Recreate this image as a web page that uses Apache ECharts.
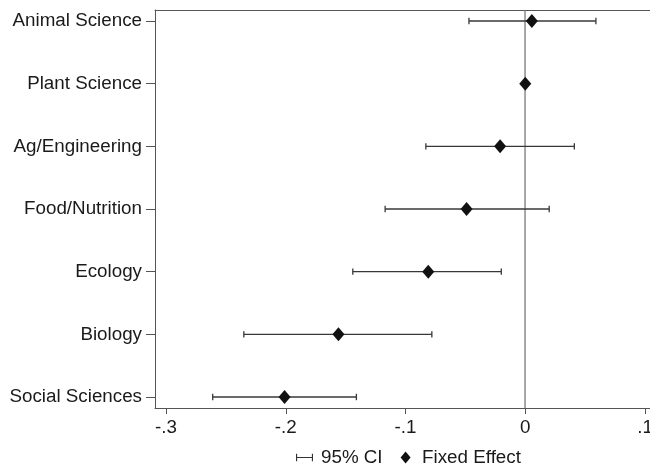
<!DOCTYPE html>
<html>
<head>
<meta charset="utf-8">
<script src="https://cdn.jsdelivr.net/npm/echarts@6/dist/echarts.min.js"></script>
<style>
html,body{margin:0;padding:0;background:#fff;}
#chart{width:650px;height:465px;}
</style>
</head>
<body>
<div id="chart"></div>
<script>
// Data (top to bottom)
const categories = ['Animal Science','Plant Science','Ag/Engineering','Food/Nutrition','Ecology','Biology','Social Sciences'];
const estimates  = [0.0055, 0.0, -0.021, -0.049, -0.081, -0.156, -0.201];
const ciLower    = [-0.047, -0.001, -0.083, -0.117, -0.144, -0.235, -0.261];
const ciUpper    = [0.059, 0.001, 0.041, 0.020, -0.020, -0.078, -0.141];
const xTicks     = [-0.3, -0.2, -0.1, 0, 0.1];
const referenceValue = 0;

const FONT = '"Liberation Sans", Arial, Helvetica, sans-serif';
const AXIS_COLOR = '#555';
const TEXT_COLOR = '#1a1a1a';
const FS = 18.8;

const chart = echarts.init(document.getElementById('chart'), null, {renderer: 'canvas'});

const ciData = categories.map((c, i) => [ciLower[i], ciUpper[i], i]);
const estData = categories.map((c, i) => [estimates[i], i]);

const fmt = v => {
  if (Math.abs(v) < 1e-9) return '0';
  return v.toFixed(1).replace('0.', '.');
};

const ciIcon = 'path://M0,0h1.2v8h-1.2z M0,3.4h18v1.2h-18z M16.8,0h1.2v8h-1.2z';
const diamondIcon = 'path://M5,0L10,6L5,12L0,6z';

const option = {
  animation: false,
  backgroundColor: '#fff',
  textStyle: {fontFamily: FONT},
  grid: [
    {left: 155, right: 0, top: 10, bottom: 57, containLabel: false, outerBoundsMode: 'none'},
    {left: 166, right: 5, top: 21, bottom: 68, containLabel: false, outerBoundsMode: 'none'}
  ],
  xAxis: [
    {gridIndex: 0, type: 'value', min: -0.3088, max: 0.1043, position: 'bottom',
     axisLine: {show: true, onZero: false, lineStyle: {color: AXIS_COLOR, width: 1}},
     axisTick: {show: false}, axisLabel: {show: false}, splitLine: {show: false}},
    {gridIndex: 0, type: 'value', min: -0.3088, max: 0.1043, position: 'top',
     axisLine: {show: true, onZero: false, lineStyle: {color: AXIS_COLOR, width: 1}},
     axisTick: {show: false}, axisLabel: {show: false}, splitLine: {show: false}},
    {gridIndex: 1, type: 'value', min: xTicks[0], max: xTicks[xTicks.length - 1], interval: 0.1,
     position: 'bottom', offset: 11,
     axisLine: {show: false, onZero: false},
     axisTick: {show: true, length: 6, lineStyle: {color: AXIS_COLOR, width: 1}},
     axisLabel: {show: true, formatter: fmt, color: TEXT_COLOR, fontSize: FS, fontFamily: FONT, margin: 10,
                 hideOverlap: false, showMinLabel: true, showMaxLabel: true},
     splitLine: {show: false}}
  ],
  yAxis: [
    {gridIndex: 0, type: 'value', min: 0, max: 1, position: 'left',
     axisLine: {show: true, onZero: false, lineStyle: {color: AXIS_COLOR, width: 1}},
     axisTick: {show: false}, axisLabel: {show: false}, splitLine: {show: false}},
    {gridIndex: 1, type: 'category', data: categories, inverse: true, boundaryGap: false,
     position: 'left', offset: 11,
     axisLine: {show: false, onZero: false},
     axisTick: {show: true, length: 9, alignWithLabel: true, lineStyle: {color: AXIS_COLOR, width: 1}},
     axisLabel: {show: true, color: TEXT_COLOR, fontSize: FS, fontFamily: FONT, margin: 13, interval: 0},
     splitLine: {show: false}}
  ],
  legend: {
    left: 291, top: 443,
    itemWidth: 17, itemHeight: 12, itemGap: 18,
    symbolKeepAspect: true,
    textStyle: {fontSize: FS, color: TEXT_COLOR, fontFamily: FONT, padding: [0, 0, 0, 3]},
    data: [
      {name: '95% CI', icon: ciIcon},
      {name: 'Fixed Effect', icon: diamondIcon}
    ]
  },
  series: [
    {
      name: 'reference', type: 'line', xAxisIndex: 0, yAxisIndex: 0,
      data: [[referenceValue, 0], [referenceValue, 1]],
      symbol: 'none', silent: true, z: 1,
      lineStyle: {color: '#6e6e6e', width: 1.2}
    },
    {
      name: '95% CI', type: 'custom', xAxisIndex: 2, yAxisIndex: 1, z: 3,
      itemStyle: {color: '#333'},
      encode: {x: [0, 1], y: 2},
      data: ciData,
      renderItem: function (params, api) {
        const cat = api.value(2);
        const p1 = api.coord([api.value(0), cat]);
        const p2 = api.coord([api.value(1), cat]);
        const h = 3.2;
        const style = {stroke: '#383838', lineWidth: 1.3, fill: null};
        return {
          type: 'group',
          children: [
            {type: 'line', shape: {x1: p1[0], y1: p1[1], x2: p2[0], y2: p2[1]}, style: style},
            {type: 'line', shape: {x1: p1[0], y1: p1[1] - h, x2: p1[0], y2: p1[1] + h}, style: style},
            {type: 'line', shape: {x1: p2[0], y1: p2[1] - h, x2: p2[0], y2: p2[1] + h}, style: style}
          ]
        };
      }
    },
    {
      name: 'Fixed Effect', type: 'scatter', xAxisIndex: 2, yAxisIndex: 1, z: 4,
      symbol: 'diamond', symbolSize: [12, 14],
      itemStyle: {color: '#111', opacity: 1},
      data: estData
    }
  ]
};

chart.setOption(option);
</script>
</body>
</html>
